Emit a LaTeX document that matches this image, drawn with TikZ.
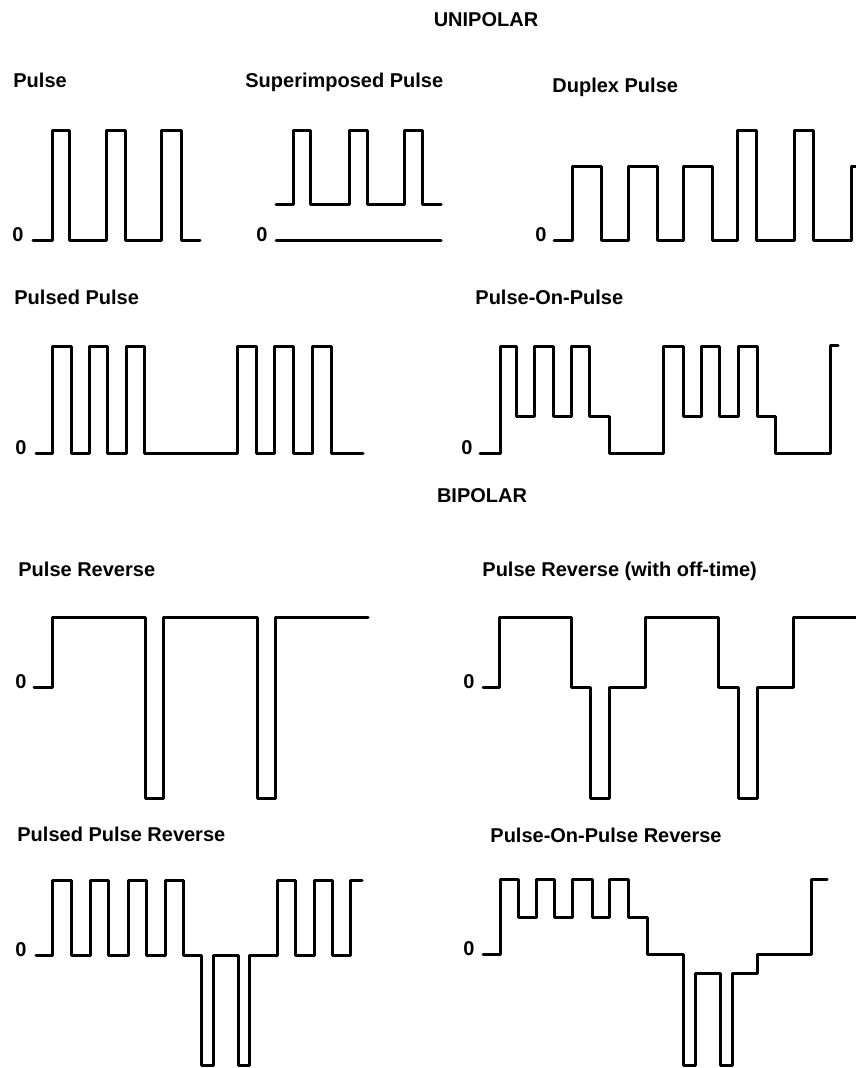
\documentclass[tikz,border=0pt]{standalone}
\usepackage{fontspec}
\setmainfont{Liberation Sans}
\begin{document}
\begin{tikzpicture}[x=0.5pt,y=-0.5pt,
  wave/.style={line width=1.5pt,line join=round,line cap=round},
  lbl/.style={anchor=base west,inner sep=0pt,font=\bfseries\fontsize{10}{12}\selectfont},
  head/.style={anchor=base,inner sep=0pt,font=\bfseries\fontsize{10}{12}\selectfont},
  zero/.style={anchor=base east,inner sep=0pt,font=\bfseries\fontsize{10}{12}\selectfont}]
\useasboundingbox (0,0) rectangle (855,1068);
\fill[white] (0,0) rectangle (855,1068);

% headings
\node[head] (uni) at (486,27) {UNIPOLAR};
\node[head] (bi) at (482,502) {BIPOLAR};

% labels
\node[lbl] (l1) at (13,88) {Pulse};
\node[lbl] (l2) at (245,88) {Superimposed Pulse};
\node[lbl] (l3) at (552,93) {Duplex Pulse};
\node[lbl] (l4) at (14,305) {Pulsed Pulse};
\node[lbl] (l5) at (475,305) {Pulse-On-Pulse};
\node[lbl] (l6) at (18,576) {Pulse Reverse};
\node[lbl] (l7) at (482,576) {Pulse Reverse (with off-time)};
\node[lbl] (l8) at (17,841) {Pulsed Pulse Reverse};
\node[lbl] (l9) at (490,842) {Pulse-On-Pulse Reverse};

% zero marks
\node[zero] (z1) at (24,242) {0};
\node[zero] (z2) at (268,242) {0};
\node[zero] (z3) at (547,242) {0};
\node[zero] (z4) at (27,454) {0};
\node[zero] (z5) at (473,454) {0};
\node[zero] (z6) at (27,688) {0};
\node[zero] (z7) at (475,688) {0};
\node[zero] (z8) at (27,956) {0};
\node[zero] (z9) at (475,955) {0};

% Pulse
\draw[wave] (33,241) -| (52,131) -| (69,241) -| (106,131) -| (125,241) -| (161,131) -| (181,241) -- (200,241);
% Superimposed Pulse
\draw[wave] (276,205) -| (293,131) -| (310,205) -| (349,131) -| (367,205) -| (404,131) -| (422,205) -- (441,205);
\draw[wave] (276,241) -- (441,241);
% Duplex Pulse
\draw[wave] (554,241) -| (572,167) -| (601,241) -| (628,167) -| (657,241) -| (683,167) -| (712,241) -| (737,131) -| (756,241) -| (794,131) -| (813,241) -| (851,167) -- (858,167);
% Pulsed Pulse
\draw[wave] (36,453) -| (52,347) -| (71,453) -| (89,347) -| (107,453) -| (126,347) -| (144,453) -| (237,347) -| (256,453) -| (274,347) -| (293,453) -| (312,347) -| (331,453) -- (363,453);
% Pulse-On-Pulse
\draw[wave] (480,453) -| (500,347) -| (516,417) -| (534,347) -| (553,417) -| (571,347) -| (589,417) -| (609,453) -| (663,347) -| (683,417) -| (701,347) -| (719,417) -| (738,347) -| (757,417) -| (775,453) -| (830,346) -- (838,346);
% Pulse Reverse
\draw[wave] (34,687) -| (52,617) -| (145,798) -| (163,617) -| (257,798) -| (275,617) -- (368,617);
% Pulse Reverse (with off-time)
\draw[wave] (483,687) -| (499,617) -| (571,687) -| (590,798) -| (609,687) -| (645,617) -| (718,687) -| (738,798) -| (757,687) -| (793,617) -- (858,617);
% Pulsed Pulse Reverse
\draw[wave] (36,955) -| (52,880) -| (71,955) -| (90,880) -| (108,955) -| (128,880) -| (146,955) -| (165,880) -| (183,955) -| (201,1065) -| (213,955) -| (238,1065) -| (249,955) -| (277,880) -| (295,955) -| (314,880) -| (332,955) -| (350,880) -- (362,880);
% Pulse-On-Pulse Reverse
\draw[wave] (483,954) -| (500,879) -| (518,917) -| (536,879) -| (554,917) -| (572,879) -| (592,917) -| (609,879) -| (628,917) -| (647,954) -| (683,1065) -| (695,973) -| (720,1065) -| (732,973) -| (757,954) -| (811,879) -- (827,879);
\end{tikzpicture}
\end{document}
